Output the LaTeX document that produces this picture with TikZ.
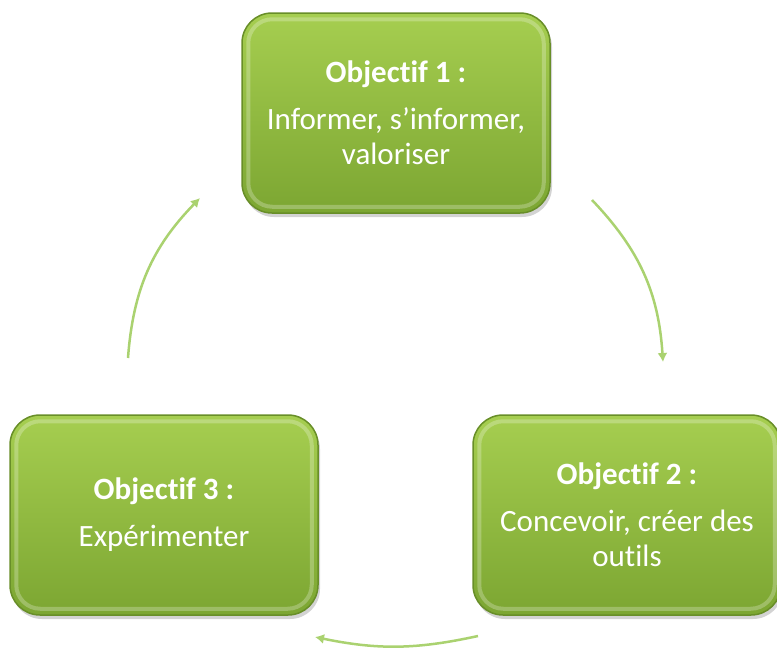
\documentclass[tikz,border=0pt]{standalone}
\usepackage{fontspec}
\setmainfont{Carlito}[Ligatures={TeX,NoCommon}]
\usetikzlibrary{shadows,arrows.meta,calc}

\definecolor{objtop}{RGB}{166,206,80}
\definecolor{objbot}{RGB}{124,166,50}
\definecolor{objedge}{RGB}{104,142,40}
\definecolor{cycarrow}{RGB}{170,210,112}

\tikzset{
  objbox/.style={rounded corners=30pt, minimum width=308pt, minimum height=200pt,
    top color=objtop, bottom color=objbot, draw=objedge, line width=1.5pt,
    drop shadow={shadow xshift=2pt,shadow yshift=-4pt,opacity=0.35},
    text=white, align=center, font=\fontsize{31}{35}\selectfont},
  bevel/.style={draw=white, opacity=0.25, line width=4pt, rounded corners=24pt},
  cyclearrow/.style={->, draw=cycarrow, line width=2.5pt}
}

\begin{document}
\begin{tikzpicture}[x=1pt,y=1pt,>={Latex[length=9pt,width=10pt]}]
  \useasboundingbox (0,0) rectangle (777,-648);
  \node[objbox] (obj1) at (396,-113) {\textbf{Objectif 1 :}\\[12pt]Informer, s'informer,\\valoriser};
  \node[objbox] (obj2) at (627,-515) {\textbf{Objectif 2 :}\\[12pt]Concevoir, créer des\\outils};
  \node[objbox] (obj3) at (164,-515) {\textbf{Objectif 3 :}\\[12pt]Expérimenter};
  % glossy rim
  \foreach \n in {obj1,obj2,obj3}
    \draw[bevel] ($(\n.south west)+(7,7)$) rectangle ($(\n.north east)+(-7,-7)$);
  % arrows round the cycle
  \coordinate (a12s) at (592,-200); \coordinate (a12e) at (663,-362);
  \coordinate (a23s) at (478,-636); \coordinate (a23e) at (315,-637);
  \coordinate (a31s) at (128,-358); \coordinate (a31e) at (200,-198);
  \draw[cyclearrow] (a12s) to[bend left=20] (a12e);
  \draw[cyclearrow] (a23s) to[bend left=12] (a23e);
  \draw[cyclearrow] (a31s) to[bend left=20] (a31e);
\end{tikzpicture}
\end{document}
